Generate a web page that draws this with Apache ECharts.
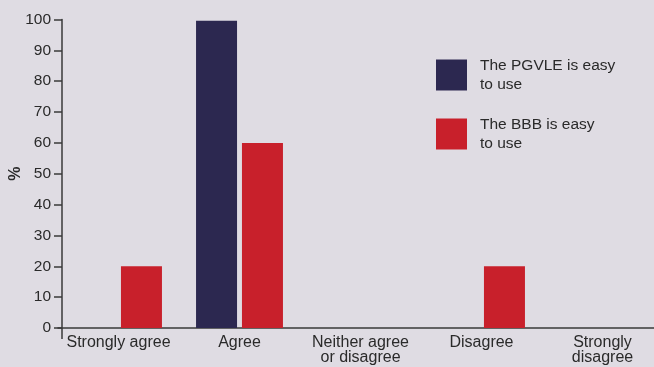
<!DOCTYPE html>
<html>
<head>
<meta charset="utf-8">
<script src="https://cdn.jsdelivr.net/npm/echarts@6/dist/echarts.min.js"></script>
<style>
html,body{margin:0;padding:0;background:#dfdce3;overflow:hidden;}
#c{width:654px;height:367px;}
</style>
</head>
<body>
<div id="c"></div>
<script>
const categories = ['Strongly agree', 'Agree', 'Neither agree\nor disagree', 'Disagree', 'Strongly\ndisagree'];
const pgvle = [0, 99.6, 0, 0, 0];
const bbb = [20, 60, 0, 20, 0];
const seriesNames = ['The PGVLE is easy\nto use', 'The BBB is easy\nto use'];
const yTicks = [0, 10, 20, 30, 40, 50, 60, 70, 80, 90, 100];

const FONT = '"Liberation Sans", Arial, sans-serif';
const chart = echarts.init(document.getElementById('c'));
chart.setOption({
  backgroundColor: '#dfdce3',
  animation: false,
  textStyle: { fontFamily: FONT },
  grid: { left: 58, width: 605, top: 19.5, bottom: 39, containLabel: false, outerBoundsMode: 'none' },
  legend: {
    orient: 'vertical', left: 431, top: 51,
    itemWidth: 31, itemHeight: 31, itemGap: 21,
    icon: 'rect',
    textStyle: { fontFamily: FONT, fontSize: 15.5, color: '#2a2a2a', lineHeight: 19, padding: [0, 0, 0, 8] },
    data: seriesNames
  },
  xAxis: {
    type: 'category', data: categories,
    axisLine: { lineStyle: { color: '#3a3a3a', width: 1.5 } },
    axisTick: { show: false },
    axisLabel: { fontFamily: FONT, fontSize: 16, color: '#2a2a2a', margin: 7, lineHeight: 15, interval: 0 }
  },
  yAxis: {
    type: 'value', min: yTicks[0], max: yTicks[yTicks.length - 1], interval: 10,
    offset: -4,
    name: '%', nameLocation: 'middle', nameGap: 38, nameRotate: 90, nameMoveOverlap: false,
    nameTextStyle: { fontFamily: FONT, fontSize: 16, fontWeight: 'bold', color: '#2a2a2a' },
    axisLine: { show: true, lineStyle: { color: '#3a3a3a', width: 1.5 } },
    axisTick: { show: true, length: 8, lineStyle: { color: '#3a3a3a', width: 1.5 } },
    splitLine: { show: false },
    axisLabel: { fontFamily: FONT, fontSize: 15.5, color: '#2a2a2a', margin: 11 }
  },
  series: [
    { name: seriesNames[0], type: 'bar', data: pgvle, barWidth: 41, barGap: '12%', itemStyle: { color: '#2c2850' } },
    { name: seriesNames[1], type: 'bar', data: bbb, barWidth: 41, barGap: '12%', itemStyle: { color: '#c8202b' } }
  ]
});
// extend y-axis line slightly below the x-axis, as in the reference
const p0 = chart.convertToPixel({ gridIndex: 0 }, [0, 0]);
chart.setOption({
  graphic: [{
    type: 'line', shape: { x1: 62, y1: p0[1], x2: 62, y2: p0[1] + 11 },
    style: { stroke: '#3a3a3a', lineWidth: 1.5 }
  }]
});
</script>
</body>
</html>
